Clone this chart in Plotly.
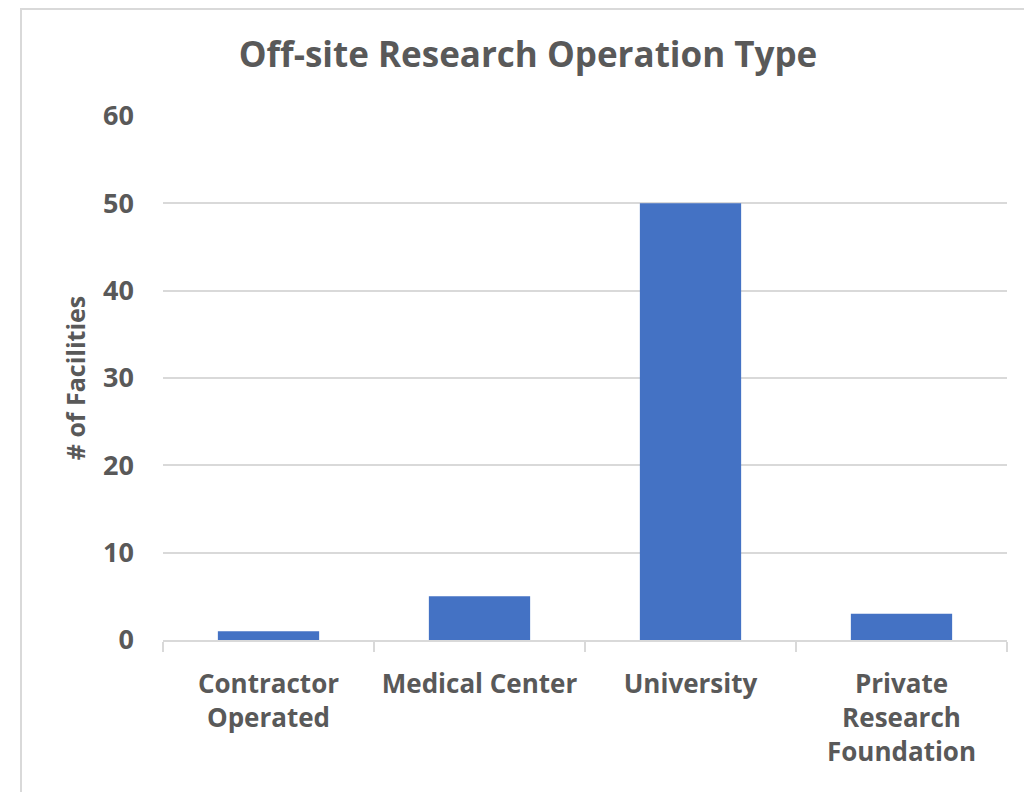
import plotly.graph_objects as go

categories = ["Contractor<br>Operated", "Medical Center", "University", "Private<br>Research<br>Foundation"]
facilities = [1, 5, 50, 3]
y_ticks = [0, 10, 20, 30, 40, 50, 60]

GRAY = "#595959"
LINE = "#d9d9d9"
FONT = "Open Sans"

# page body has an 8px offset, so figure coordinates = screen coordinates - 8
L, R, T, B = 155, 33, 108, 160
PW = 1032 - L - R
PH = 792 - T - B

fig = go.Figure(go.Bar(x=categories, y=facilities, marker=dict(color="#4472C4", line=dict(width=0)), width=0.48))

fig.update_layout(
    width=1032, height=792,
    margin=dict(l=L, r=R, t=T, b=B),
    paper_bgcolor="white", plot_bgcolor="white",
    showlegend=False,
    title=dict(text="<b>Off-site Research Operation Type</b>", x=520/1032, xanchor="center",
               y=1-47/792, yanchor="middle", font=dict(family=FONT, size=35, color=GRAY)),
    font=dict(family=FONT, color=GRAY),
)
fig.update_xaxes(
    type="category", showline=True, linecolor=LINE, linewidth=2,
    ticks="outside", tickson="boundaries", ticklen=10, tickcolor=LINE, tickwidth=2,
    tickfont=dict(family=FONT, size=26, color=GRAY), ticklabelstandoff=20,
    showgrid=False,
    tickvals=categories, ticktext=[f"<b>{c}</b>" for c in categories],
)
fig.update_yaxes(
    range=[0, 60], tickvals=y_ticks, ticktext=[f"<b>{v}</b>" for v in y_ticks],
    showgrid=True, gridcolor=LINE, gridwidth=2, zeroline=False,
    showline=False, ticks="", ticklabelstandoff=28,
    tickfont=dict(family=FONT, size=27, color=GRAY),
    title=dict(text="<b># of Facilities</b>", font=dict(family=FONT, size=25, color=GRAY), standoff=10),
)

# outer chart frame
fig.add_shape(type="rect", xref="paper", yref="paper",
              x0=(13-L)/PW, x1=(1045-L)/PW, y0=(T+PH-805)/PH, y1=(T+PH-1)/PH,
              line=dict(color=LINE, width=2), fillcolor="rgba(0,0,0,0)", layer="below")

fig.write_html("out.html")
